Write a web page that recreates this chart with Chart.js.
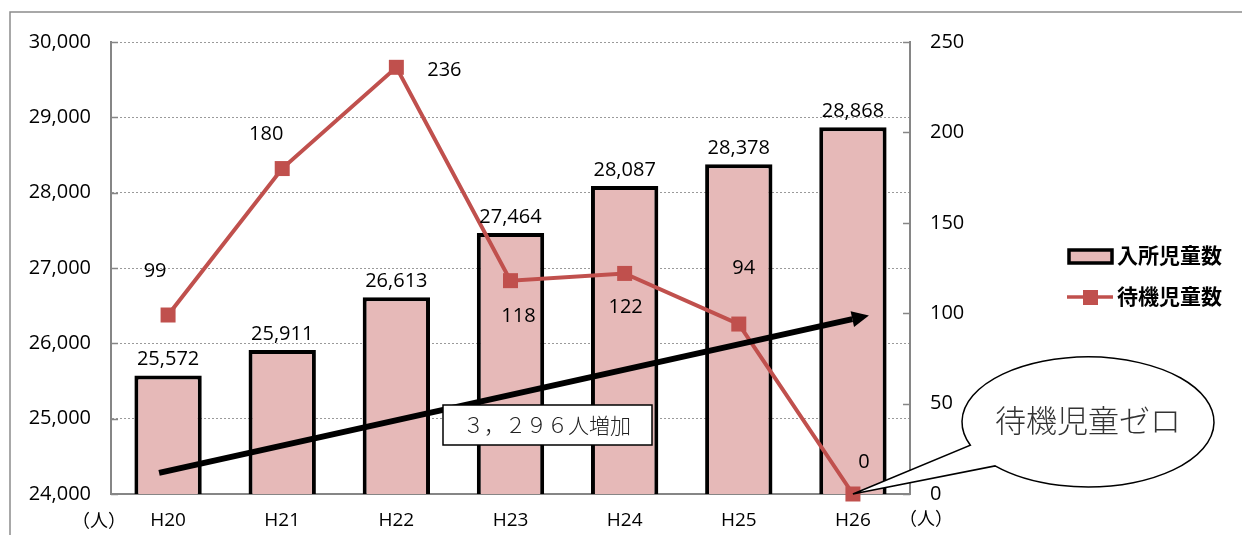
<!DOCTYPE html>
<html>
<head>
<meta charset="utf-8">
<script src="https://cdn.jsdelivr.net/npm/chart.js@4.4.1/dist/chart.umd.min.js"></script>
<style>
html, body { margin: 0; padding: 0; background: #fff; }
#wrap { width: 1242px; height: 535px; position: relative; }
</style>
</head>
<body>
<div id="wrap"><canvas id="c"></canvas></div>
<script>
// data
const years = ['H20', 'H21', 'H22', 'H23', 'H24', 'H25', 'H26'];
const nyushoJido = [25572, 25911, 26613, 27464, 28087, 28378, 28868];
const taikiJido = [99, 180, 236, 118, 122, 94, 0];
const leftMin = 24000, leftMax = 30000, leftStep = 1000;
const rightMin = 0, rightMax = 250, rightStep = 50;
const increaseText = '３，２９６人増加';
const zeroText = '待機児童ゼロ';

const BAR_FILL = '#E6B9B8';
const LINE_RED = '#C0504D';
const AXIS_GRAY = '#868686';
const JP = "'Noto Sans CJK JP', sans-serif";

// where each line label sits relative to its point
const lineLabelOffsets = [[-13, -44], [-16, -34], [48, 3], [8, 36], [1, 34], [5, -56], [11, -32]];

const extras = {
    id: 'extras',
    beforeDraw(chart) {
        const c = chart.ctx;
        c.save();
        c.strokeStyle = '#8c8c8c';
        c.lineWidth = 1.5;
        c.beginPath();
        c.moveTo(10, 540);
        c.lineTo(10, 12);
        c.lineTo(1242, 12);
        c.stroke();
        c.restore();
    },
    afterDatasetsDraw(chart) {
        const c = chart.ctx;
        c.save();
        c.fillStyle = '#000';
        c.font = "20px 'Open Sans'";
        c.textAlign = 'center';
        c.textBaseline = 'middle';
        chart.getDatasetMeta(0).data.forEach((el, i) => {
            c.fillText(nyushoJido[i].toLocaleString('en-US'), el.x, el.y - 16);
        });
        chart.getDatasetMeta(1).data.forEach((el, i) => {
            const o = lineLabelOffsets[i];
            c.fillText(String(taikiJido[i]), el.x + o[0], el.y + o[1]);
        });
        c.restore();
    },
    afterDraw(chart) {
        const c = chart.ctx;
        const xs = chart.scales.x, ys = chart.scales.y, ys1 = chart.scales.y1;
        c.save();

        // small inside tick marks
        c.strokeStyle = AXIS_GRAY;
        c.lineWidth = 1.5;
        ys.ticks.forEach(t => {
            const py = Math.round(ys.getPixelForValue(t.value)) + 0.5;
            c.beginPath(); c.moveTo(ys.right, py); c.lineTo(ys.right + 7, py); c.stroke();
        });
        ys1.ticks.forEach(t => {
            const py = Math.round(ys1.getPixelForValue(t.value)) + 0.5;
            c.beginPath(); c.moveTo(ys1.left - 7, py); c.lineTo(ys1.left, py); c.stroke();
        });

        // units
        c.fillStyle = '#000';
        c.font = '18px ' + JP;
        c.textAlign = 'center';
        c.textBaseline = 'middle';
        c.fillText('（人）', 99, 520);
        c.fillText('（人）', 926, 518);

        // legend
        c.fillStyle = BAR_FILL;
        c.strokeStyle = '#000';
        c.lineWidth = 3.5;
        c.fillRect(1069, 250, 43, 13);
        c.strokeRect(1069, 250, 43, 13);
        c.strokeStyle = LINE_RED;
        c.lineWidth = 3.5;
        c.beginPath(); c.moveTo(1067, 297); c.lineTo(1113, 297); c.stroke();
        c.fillStyle = LINE_RED;
        c.fillRect(1083, 290, 15, 15);
        c.fillStyle = '#000';
        c.font = 'bold 21px ' + JP;
        c.textAlign = 'left';
        c.fillText('入所児童数', 1117, 255);
        c.fillText('待機児童数', 1117, 296);

        // increase arrow
        const x0 = xs.getPixelForValue(0) - 9, y0 = ys.getPixelForValue(24280);
        const x1 = xs.getPixelForValue(6) + 16, y1 = ys.getPixelForValue(26370);
        const ang = Math.atan2(y1 - y0, x1 - x0);
        const headLen = 17, headW = 8;
        const bx = x1 - headLen * Math.cos(ang), by = y1 - headLen * Math.sin(ang);
        c.strokeStyle = '#000';
        c.lineWidth = 6;
        c.beginPath(); c.moveTo(x0, y0); c.lineTo(bx, by); c.stroke();
        c.fillStyle = '#000';
        c.beginPath();
        c.moveTo(x1, y1);
        c.lineTo(bx + headW * Math.sin(ang), by - headW * Math.cos(ang));
        c.lineTo(bx - headW * Math.sin(ang), by + headW * Math.cos(ang));
        c.closePath();
        c.fill();

        // text box
        c.fillStyle = '#fff';
        c.fillRect(443, 405, 209, 40);
        c.strokeStyle = '#000';
        c.lineWidth = 1.5;
        c.strokeRect(443, 405, 209, 40);
        c.fillStyle = '#222';
        c.font = '300 21px ' + JP;
        c.textAlign = 'center';
        c.fillText(increaseText, 547, 425);

        // callout pointing at the zero point
        const tip = chart.getDatasetMeta(1).data[6];
        const cx = 1088, cy = 422, rx = 126, ry = 65;
        const a1 = 159 * Math.PI / 180, a2 = 137.5 * Math.PI / 180;
        c.beginPath();
        c.moveTo(tip.x, tip.y);
        c.lineTo(cx + rx * Math.cos(a1), cy + ry * Math.sin(a1));
        c.ellipse(cx, cy, rx, ry, 0, a1, a2, false);
        c.closePath();
        c.fillStyle = '#fff';
        c.fill();
        c.strokeStyle = '#000';
        c.lineWidth = 1.5;
        c.stroke();
        c.fillStyle = '#333';
        c.font = '300 31px ' + JP;
        c.fillText(zeroText, cx, cy - 2);

        c.restore();
    }
};

Chart.defaults.font.family = "'Open Sans', " + JP;
Chart.defaults.color = '#000';

new Chart(document.getElementById('c'), {
    type: 'bar',
    data: {
        labels: years,
        datasets: [{
            label: '入所児童数',
            data: nyushoJido,
            yAxisID: 'y',
            backgroundColor: BAR_FILL,
            borderColor: '#000',
            borderWidth: 4,
            borderSkipped: false,
            barPercentage: 0.59,
            categoryPercentage: 1,
            order: 1
        }, {
            type: 'line',
            label: '待機児童数',
            data: taikiJido,
            yAxisID: 'y1',
            borderColor: LINE_RED,
            borderWidth: 4,
            pointStyle: 'rect',
            pointRadius: 10.6,
            pointBackgroundColor: LINE_RED,
            pointBorderWidth: 0,
            clip: false,
            order: 0
        }]
    },
    options: {
        responsive: true,
        maintainAspectRatio: false,
        animation: false,
        layout: { padding: { top: 42, right: 262, bottom: 0, left: 0 } },
        plugins: {
            legend: { display: false },
            tooltip: { enabled: false }
        },
        scales: {
            x: {
                grid: { display: false, drawTicks: false },
                border: { color: AXIS_GRAY, width: 2 },
                ticks: { font: { size: 19 }, padding: 15 },
                afterFit(s) { s.height = 41; }
            },
            y: {
                position: 'left',
                min: leftMin,
                max: leftMax,
                grid: { color: '#9a9a9a', lineWidth: 1, drawTicks: false },
                border: { color: AXIS_GRAY, width: 2, dash: [2, 2] },
                ticks: {
                    stepSize: leftStep,
                    font: { size: 20 },
                    padding: 20,
                    callback: v => v.toLocaleString('en-US')
                },
                afterFit(s) { s.width = 111; }
            },
            y1: {
                position: 'right',
                min: rightMin,
                max: rightMax,
                grid: { drawOnChartArea: false, drawTicks: false },
                border: { color: AXIS_GRAY, width: 2 },
                ticks: { stepSize: rightStep, font: { size: 20 }, padding: 20 },
                afterFit(s) { s.width = 70; }
            }
        }
    },
    plugins: [extras]
});
</script>
</body>
</html>
